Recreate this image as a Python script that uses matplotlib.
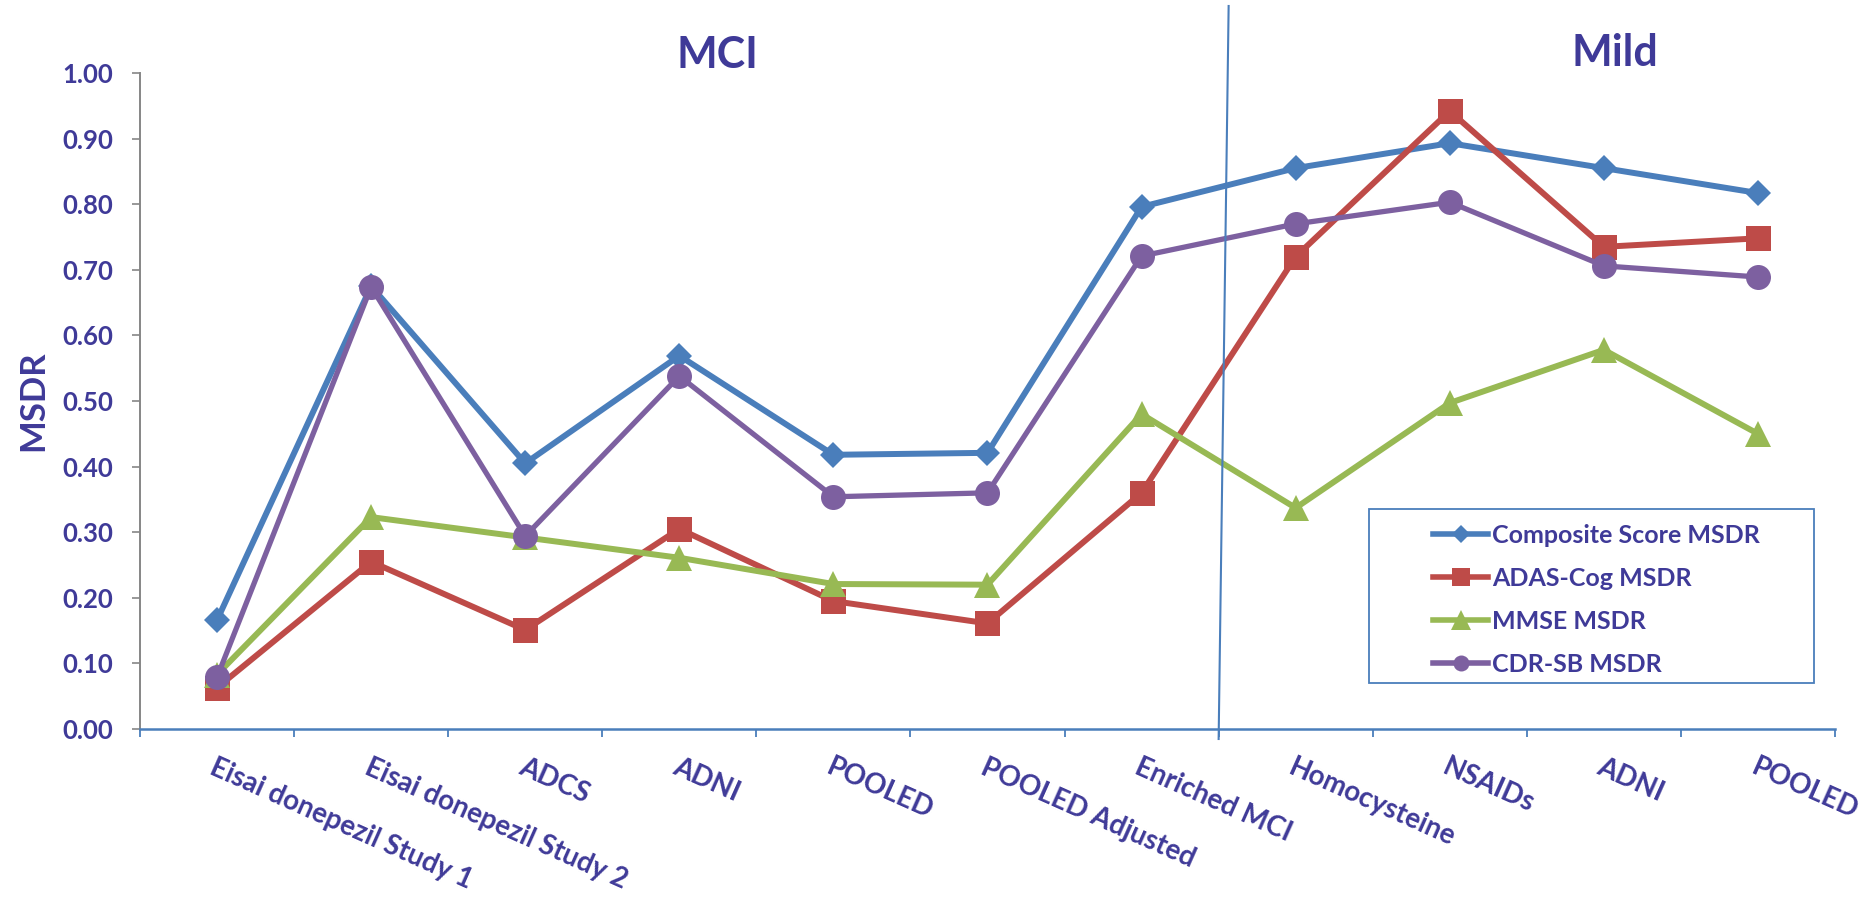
import matplotlib
matplotlib.use("Agg")
import matplotlib.pyplot as plt
from matplotlib.lines import Line2D
from matplotlib.patches import Rectangle
from matplotlib.ticker import FixedLocator, FormatStrFormatter

plt.rcParams['font.family'] = ['Lato', 'DejaVu Sans']
plt.rcParams['font.weight'] = 'bold'

# ---- data ----
studies = ["Eisai donepezil Study 1", "Eisai donepezil Study 2", "ADCS", "ADNI",
           "POOLED", "POOLED Adjusted", "Enriched MCI", "Homocysteine",
           "NSAIDs", "ADNI", "POOLED"]
composite_msdr = [0.166, 0.675, 0.405, 0.569, 0.418, 0.421, 0.796, 0.855, 0.893, 0.855, 0.817]
adas_cog_msdr  = [0.063, 0.255, 0.151, 0.305, 0.195, 0.161, 0.360, 0.720, 0.942, 0.735, 0.748]
mmse_msdr      = [0.083, 0.323, 0.292, 0.261, 0.221, 0.220, 0.480, 0.337, 0.497, 0.578, 0.450]
cdr_sb_msdr    = [0.079, 0.674, 0.294, 0.538, 0.354, 0.360, 0.721, 0.770, 0.803, 0.706, 0.689]
series_names = ["Composite Score MSDR", "ADAS-Cog MSDR", "MMSE MSDR", "CDR-SB MSDR"]
n_mci = 7  # first seven studies are MCI, the rest Mild AD

TEXT = "#3F3A98"
BLUE_AX = "#4A7EBB"
GRAY_AX = "#868686"
styles = [
    dict(color="#4A7EBB", marker="D", ms=13.7, lw=4.3),
    dict(color="#BE4B48", marker="s", ms=18, lw=4.3),
    dict(color="#98B954", marker="^", ms=18.5, lw=4.3),
    dict(color="#7D60A0", marker="o", ms=18, lw=3.8),
]
legend_ms = [9.5, 13, 14, 11.5]

W, H = 1861, 902
fig = plt.figure(figsize=(W / 100, H / 100), dpi=100)
ax = fig.add_axes([140 / W, 1 - 729 / H, 1695 / W, 656 / H])

x = [i + 0.5 for i in range(len(studies))]
all_series = [composite_msdr, adas_cog_msdr, mmse_msdr, cdr_sb_msdr]
for vals, st, name in zip(all_series, styles, series_names):
    ax.plot(x, vals, color=st["color"], lw=st["lw"], marker=st["marker"],
            ms=st["ms"], markeredgewidth=0, label=name, clip_on=False,
            solid_joinstyle="miter")

ax.set_xlim(0, len(studies))
ax.set_ylim(0, 1.0)

# y axis
ax.yaxis.set_major_locator(FixedLocator([i / 10 for i in range(11)]))
ax.yaxis.set_major_formatter(FormatStrFormatter("%.2f"))
ax.tick_params(axis="y", which="major", length=5.8, width=1.2, color=GRAY_AX,
               labelsize=18.5, labelcolor=TEXT, pad=13.5)
for lab in ax.get_yticklabels():
    lab.set_fontweight("bold")
ax.set_ylabel("MSDR", fontsize=25, fontweight="bold", color=TEXT)
ax.yaxis.label.set_va("center")
ax.yaxis.set_label_coords(-107 / 1695, 0.5)

# x axis: boundary ticks, category labels at centers
ax.set_xticks(range(len(studies) + 1))
ax.set_xticklabels([])
ax.tick_params(axis="x", which="major", length=5.8, width=1.3, color=BLUE_AX)
ax.set_xticks(x, minor=True)
ax.set_xticklabels(studies, minor=True)
ax.tick_params(axis="x", which="minor", length=0, pad=18, labelsize=20,
               labelcolor=TEXT)
for lab in ax.get_xticklabels(minor=True):
    lab.set_rotation(-24)
    lab.set_ha("left")
    lab.set_va("top")
    lab.set_rotation_mode("anchor")
    lab.set_fontweight("bold")

for s in ("top", "right"):
    ax.spines[s].set_visible(False)
ax.spines["left"].set_color(GRAY_AX)
ax.spines["left"].set_linewidth(1.4)
ax.spines["bottom"].set_color(BLUE_AX)
ax.spines["bottom"].set_linewidth(1.8)

# group headings
ax.text(3.75, 1.008, "MCI", fontsize=31, fontweight="bold", color=TEXT,
        ha="center", va="baseline")
ax.text(9.57, 1.011, "Mild", fontsize=31, fontweight="bold", color=TEXT,
        ha="center", va="baseline")

# divider between MCI and Mild groups
bx, by = ax.transData.transform((n_mci, 0))
fx0, fy0 = bx / W, (by - 10) / H
fx1, fy1 = (bx + 10) / W, 1 - 6 / H
fig.add_artist(Line2D([fx0, fx1], [fy0, fy1], transform=fig.transFigure,
                      color=BLUE_AX, lw=1.5))

# legend
handles = [Line2D([], [], color=st["color"], lw=4.0, marker=st["marker"],
                  ms=lms, markeredgewidth=0)
           for st, lms in zip(styles, legend_ms)]
leg = fig.legend(handles, series_names, loc="upper left",
                 bbox_to_anchor=(1433 / W, 1 - 524 / H),
                 bbox_transform=fig.transFigure, frameon=False,
                 fontsize=18, handlelength=2.2, handletextpad=0.15,
                 labelspacing=0.8, borderpad=0, borderaxespad=0)
for t in leg.get_texts():
    t.set_color(TEXT)
    t.set_fontweight("bold")
fig.add_artist(Rectangle((1369 / W, 1 - 683 / H), 445 / W, 174 / H,
                         transform=fig.transFigure, fill=False,
                         edgecolor=BLUE_AX, lw=1.3))

fig.savefig("out.png", dpi=100, facecolor="white")
